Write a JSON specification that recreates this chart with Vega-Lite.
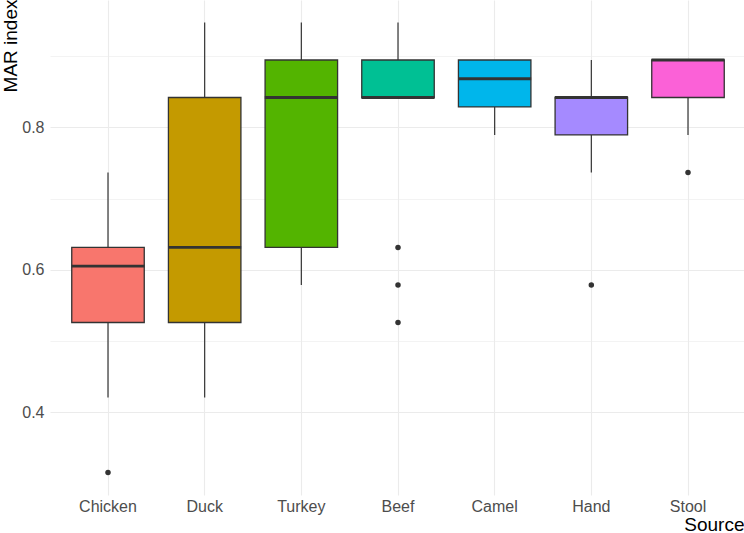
{
  "$schema": "https://vega.github.io/schema/vega-lite/v6.json",
  "width": 696,
  "height": 495,
  "autosize": "none",
  "padding": {"left": 50, "top": 0, "right": 0, "bottom": 38},
  "background": "white",
  "config": {
    "font": "Liberation Sans",
    "view": {"stroke": null},
    "axis": {"domain": false, "ticks": false, "gridColor": "#EBEBEB", "labelColor": "#4D4D4D", "labelFontSize": 16, "titleFontSize": 19, "titleFontWeight": "normal", "titleColor": "#000000"}
  },
  "datasets": {
    "boxes": [
      {"source": "Chicken", "lower": 0.4211, "q1": 0.5263, "median": 0.6053, "q3": 0.6316, "upper": 0.7368},
      {"source": "Duck", "lower": 0.4211, "q1": 0.5263, "median": 0.6316, "q3": 0.8421, "upper": 0.9474},
      {"source": "Turkey", "lower": 0.5789, "q1": 0.6316, "median": 0.8421, "q3": 0.8947, "upper": 0.9474},
      {"source": "Beef", "lower": 0.8421, "q1": 0.8421, "median": 0.8421, "q3": 0.8947, "upper": 0.9474},
      {"source": "Camel", "lower": 0.7895, "q1": 0.8289, "median": 0.8684, "q3": 0.8947, "upper": 0.8947},
      {"source": "Hand", "lower": 0.7368, "q1": 0.7895, "median": 0.8421, "q3": 0.8421, "upper": 0.8947},
      {"source": "Stool", "lower": 0.7895, "q1": 0.8421, "median": 0.8947, "q3": 0.8947, "upper": 0.8947}
    ],
    "outliers": [
      {"source": "Chicken", "value": 0.3158},
      {"source": "Beef", "value": 0.6316},
      {"source": "Beef", "value": 0.5789},
      {"source": "Beef", "value": 0.5263},
      {"source": "Hand", "value": 0.5789},
      {"source": "Stool", "value": 0.7368}
    ]
  },
  "encoding": {
    "x": {
      "field": "source",
      "type": "nominal",
      "sort": ["Chicken", "Duck", "Turkey", "Beef", "Camel", "Hand", "Stool"],
      "scale": {"domain": ["Chicken", "Duck", "Turkey", "Beef", "Camel", "Hand", "Stool"], "paddingInner": 0, "paddingOuter": 0.1},
      "axis": {
        "title": "Source",
        "labelAngle": 0,
        "labelPadding": 3,
        "grid": true,
        "gridWidth": 1.1,
        "bandPosition": 0.5,
        "titleX": 694,
        "titleY": 35,
        "titleAlign": "right",
        "titleAnchor": null,
        "titleBaseline": "alphabetic"
      }
    }
  },
  "layer": [
    {
      "data": {"name": "boxes"},
      "mark": {"type": "rule", "color": "#333333", "strokeWidth": 1.2},
      "encoding": {
        "y": {
          "field": "lower",
          "type": "quantitative",
          "scale": {"domain": [0.2842, 0.9789], "nice": false, "zero": false},
          "axis": {
            "title": "MAR index",
            "values": [0.4, 0.5, 0.6, 0.7, 0.8, 0.9],
            "format": ".1f",
            "labelExpr": "round(datum.value*10) % 2 == 0 ? datum.label : ''",
            "labelPadding": 6,
            "grid": true,
            "gridWidth": {"condition": {"test": "round(datum.value*10) % 2 == 0", "value": 1.1}, "value": 0.6},
            "titleAngle": -90,
            "titleX": -34,
            "titleY": -1,
            "titleAlign": "right",
            "titleBaseline": "alphabetic"
          }
        },
        "y2": {"field": "upper"}
      }
    },
    {
      "data": {"name": "boxes"},
      "mark": {"type": "bar", "width": {"band": 0.75}, "stroke": "#333333", "strokeWidth": 1.3},
      "encoding": {
        "y": {"field": "q1", "type": "quantitative"},
        "y2": {"field": "q3"},
        "fill": {
          "field": "source",
          "type": "nominal",
          "scale": {"domain": ["Chicken", "Duck", "Turkey", "Beef", "Camel", "Hand", "Stool"], "range": ["#F8766D", "#C49A00", "#53B400", "#00C094", "#00B6EB", "#A58AFF", "#FB61D7"]},
          "legend": null
        }
      }
    },
    {
      "data": {"name": "boxes"},
      "mark": {"type": "tick", "color": "#333333", "thickness": 2.8, "size": 73, "opacity": 1},
      "encoding": {
        "y": {"field": "median", "type": "quantitative"}
      }
    },
    {
      "data": {"name": "outliers"},
      "mark": {"type": "circle", "color": "#333333", "size": 30, "opacity": 1},
      "encoding": {
        "y": {"field": "value", "type": "quantitative"}
      }
    }
  ]
}
